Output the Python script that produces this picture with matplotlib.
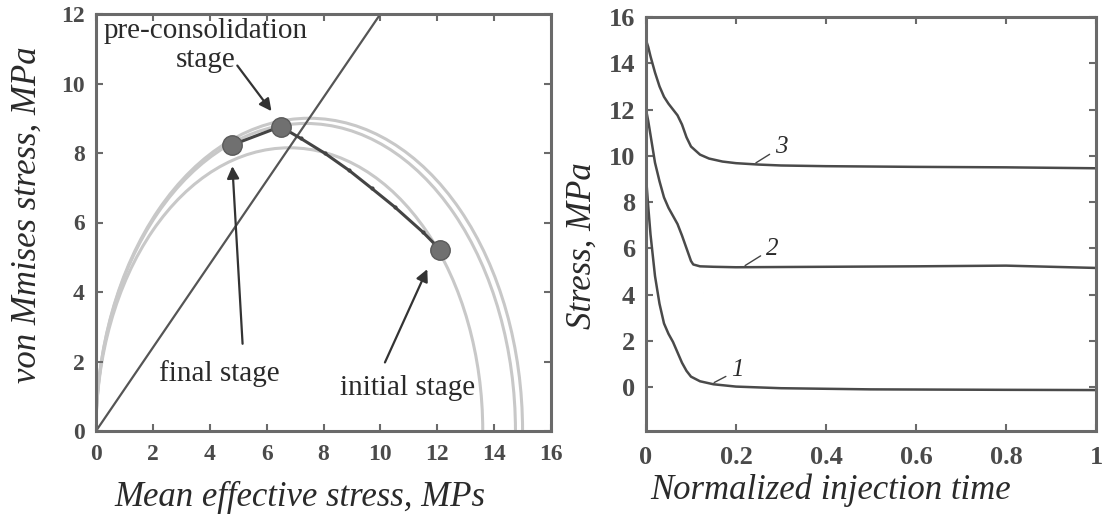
import matplotlib
matplotlib.use("Agg")
import matplotlib.pyplot as plt
from matplotlib.patches import Arc

plt.rcParams['font.family'] = ['Liberation Serif', 'DejaVu Serif']

# ---------------- data: left panel ----------------
yield_p0 = [13.6, 14.75, 15.0]          # yield surface extents (MPa)
yield_qmax = [8.15, 8.85, 9.0]          # yield surface peaks (MPa)
csl_x = [0, 10]
csl_y = [0, 12]
path_x = [12.1, 11.5, 10.5, 9.7, 8.9, 8.05, 7.2, 6.49, 4.78]
path_y = [5.22, 5.72, 6.45, 6.98, 7.5, 7.99, 8.42, 8.76, 8.23]
stage_x = [12.1, 6.49, 4.78]
stage_y = [5.22, 8.76, 8.23]
left_xticks = [0, 2, 4, 6, 8, 10, 12, 14, 16]
left_yticks = [0, 2, 4, 6, 8, 10, 12]

# ---------------- data: right panel ----------------
t3 = [0, 0.005, 0.01, 0.02, 0.03, 0.04, 0.05, 0.06, 0.07, 0.08, 0.09, 0.1, 0.12, 0.14, 0.17, 0.2, 0.25, 0.3, 0.4, 0.6, 0.8, 1.0]
s3 = [15.0, 14.7, 14.3, 13.6, 13.0, 12.55, 12.25, 12.0, 11.75, 11.35, 10.8, 10.4, 10.05, 9.88, 9.75, 9.68, 9.62, 9.58, 9.55, 9.52, 9.5, 9.46]
t2 = [0, 0.005, 0.01, 0.02, 0.03, 0.04, 0.05, 0.06, 0.07, 0.08, 0.09, 0.1, 0.105, 0.12, 0.15, 0.2, 0.4, 0.6, 0.8, 0.9, 1.0]
s2 = [12.0, 11.5, 10.9, 9.7, 8.9, 8.2, 7.75, 7.4, 7.05, 6.55, 6.0, 5.45, 5.3, 5.22, 5.2, 5.18, 5.2, 5.22, 5.25, 5.2, 5.15]
t1 = [0, 0.005, 0.01, 0.02, 0.03, 0.04, 0.05, 0.06, 0.07, 0.08, 0.09, 0.1, 0.12, 0.15, 0.2, 0.3, 0.5, 0.8, 1.0]
s1 = [9.1, 7.8, 6.6, 4.8, 3.6, 2.75, 2.3, 1.95, 1.5, 1.05, 0.7, 0.45, 0.25, 0.12, 0.02, -0.05, -0.1, -0.12, -0.13]
right_xticks = [0, 0.2, 0.4, 0.6, 0.8, 1.0]
right_xticklabels = ["0", "0.2", "0.4", "0.6", "0.8", "1"]
right_yticks = [0, 2, 4, 6, 8, 10, 12, 14, 16]

W, H = 1106, 521
fig = plt.figure(figsize=(W / 100, H / 100), dpi=100)

def px_axes(x0, y0, x1, y1):
    return fig.add_axes([x0 / W, 1 - y1 / H, (x1 - x0) / W, (y1 - y0) / H])

spine_c = '#6a6a6a'
line_c = '#4a4a4a'
txt_c = '#2a2a2a'

def style(ax, fs, xpad):
    for s in ax.spines.values():
        s.set_color(spine_c)
        s.set_linewidth(2.2)
    ax.tick_params(direction='in', length=5, width=1.5, color=spine_c,
                   top=True, right=True, labelsize=fs, labelcolor='#4a4a4a')
    ax.tick_params(axis='y', pad=8)
    ax.tick_params(axis='x', pad=xpad)
    for lab in ax.get_xticklabels() + ax.get_yticklabels():
        lab.set_fontweight('bold')

# ---------------- left panel ----------------
axL = px_axes(96, 14, 551, 431)
for p0, qm in zip(yield_p0, yield_qmax):
    axL.add_patch(Arc((p0 / 2, 0), p0, 2 * qm, theta1=0, theta2=180,
                      color='#c8c8c8', lw=2.2))
axL.plot(csl_x, csl_y, color='#555555', lw=1.6)
axL.plot(path_x, path_y, color='#444444', lw=2.2, marker='.', ms=4)
axL.plot(stage_x, stage_y, 'o', ms=14, color='#707070', mec='#5a5a5a', mew=1)
axL.set_xlim(0, 16)
axL.set_ylim(0, 12)
axL.set_xticks(left_xticks)
axL.set_yticks(left_yticks)
style(axL, 17, 9)

arrow = dict(arrowstyle='-|>', color='#333333', lw=1.6, mutation_scale=18)
axL.annotate('', xy=(6.23, 9.14), xytext=(4.91, 10.58), arrowprops=arrow)
axL.annotate('', xy=(4.79, 7.70), xytext=(5.16, 2.43), arrowprops=arrow)
axL.annotate('', xy=(11.69, 4.73), xytext=(10.12, 1.90), arrowprops=arrow)
axL.text(3.85, 11.08, 'pre-consolidation\nstage', ha='center', va='center',
         fontsize=21, linespacing=1.15, color=txt_c)
axL.text(4.35, 1.66, 'final stage', ha='center', va='center', fontsize=21, color=txt_c)
axL.text(10.94, 1.23, 'initial stage', ha='center', va='center', fontsize=21, color=txt_c)

fig.text(300 / W, 1 - 497 / H, 'Mean effective stress, MPs', ha='center', va='center',
         fontsize=25, style='italic', color=txt_c)
fig.text(27 / W, 1 - 215 / H, 'von Mmises stress, MPa', ha='center', va='center',
         rotation=90, fontsize=25, style='italic', color=txt_c)

# ---------------- right panel ----------------
axR = px_axes(646, 17, 1096, 431)
axR.plot(t3, s3, color=line_c, lw=1.8)
axR.plot(t2, s2, color=line_c, lw=1.8)
axR.plot(t1, s1, color=line_c, lw=1.8)
axR.set_xlim(0, 1)
axR.set_ylim(-1.9, 16)
axR.set_xticks(right_xticks)
axR.set_xticklabels(right_xticklabels)
axR.set_yticks(right_yticks)
style(axR, 19, 11)

lead = dict(arrowstyle='-', color='#444444', lw=1)
axR.annotate('3', xy=(0.239, 9.63), xytext=(0.30, 10.37), ha='center', va='center',
             fontsize=18, style='italic', color=txt_c, arrowprops=lead)
axR.annotate('2', xy=(0.215, 5.19), xytext=(0.28, 5.98), ha='center', va='center',
             fontsize=18, style='italic', color=txt_c, arrowprops=lead)
axR.annotate('1', xy=(0.146, 0.14), xytext=(0.203, 0.72), ha='center', va='center',
             fontsize=18, style='italic', color=txt_c, arrowprops=lead)

fig.text(831 / W, 1 - 490 / H, 'Normalized injection time', ha='center', va='center',
         fontsize=25, style='italic', color=txt_c)
fig.text(582 / W, 1 - 246 / H, 'Stress, MPa', ha='center', va='center',
         rotation=90, fontsize=25, style='italic', color=txt_c)

fig.savefig('out.png', dpi=100)
